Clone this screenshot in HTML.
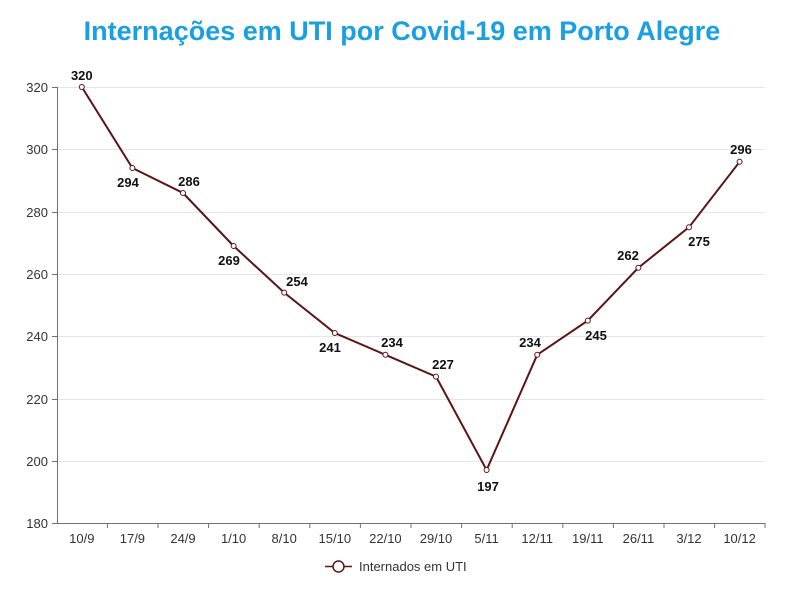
<!DOCTYPE html>
<html><head><meta charset="utf-8"><style>body{margin:0;background:#fff}svg{display:block}</style></head><body>
<svg width="800" height="589" xmlns="http://www.w3.org/2000/svg" font-family="'Liberation Sans',sans-serif">
<text x="402" y="40" text-anchor="middle" font-size="27" font-weight="bold" fill="#1aa0e0">Internações em UTI por Covid-19 em Porto Alegre</text>
<g stroke="#e6e6e6" stroke-width="1">
<line x1="57" x2="765" y1="87.5" y2="87.5"/><line x1="57" x2="765" y1="149.5" y2="149.5"/><line x1="57" x2="765" y1="212.5" y2="212.5"/><line x1="57" x2="765" y1="274.5" y2="274.5"/><line x1="57" x2="765" y1="336.5" y2="336.5"/><line x1="57" x2="765" y1="399.5" y2="399.5"/><line x1="57" x2="765" y1="461.5" y2="461.5"/>
</g>
<g stroke="#6e7079" stroke-width="1">
<line x1="57.5" x2="57.5" y1="87" y2="523"/>
<line x1="57" x2="765" y1="523.5" y2="523.5"/>
<line x1="52" x2="57" y1="87.5" y2="87.5"/><line x1="52" x2="57" y1="149.5" y2="149.5"/><line x1="52" x2="57" y1="212.5" y2="212.5"/><line x1="52" x2="57" y1="274.5" y2="274.5"/><line x1="52" x2="57" y1="336.5" y2="336.5"/><line x1="52" x2="57" y1="399.5" y2="399.5"/><line x1="52" x2="57" y1="461.5" y2="461.5"/><line x1="52" x2="57" y1="523.5" y2="523.5"/>
<line x1="107.4" x2="107.4" y1="523" y2="528"/><line x1="158" x2="158" y1="523" y2="528"/><line x1="208.6" x2="208.6" y1="523" y2="528"/><line x1="259.2" x2="259.2" y1="523" y2="528"/><line x1="309.8" x2="309.8" y1="523" y2="528"/><line x1="360.4" x2="360.4" y1="523" y2="528"/><line x1="411" x2="411" y1="523" y2="528"/><line x1="461.6" x2="461.6" y1="523" y2="528"/><line x1="512.2" x2="512.2" y1="523" y2="528"/><line x1="562.8" x2="562.8" y1="523" y2="528"/><line x1="613.4" x2="613.4" y1="523" y2="528"/><line x1="664" x2="664" y1="523" y2="528"/><line x1="714.6" x2="714.6" y1="523" y2="528"/><line x1="765" x2="765" y1="523" y2="528"/>
</g>
<g font-size="13" fill="#333" text-anchor="end">
<text x="48" y="92">320</text><text x="48" y="154">300</text><text x="48" y="217">280</text><text x="48" y="279">260</text><text x="48" y="341">240</text><text x="48" y="404">220</text><text x="48" y="466">200</text><text x="48" y="528">180</text>
</g>
<g font-size="13" fill="#333" text-anchor="middle">
<text x="81.8" y="543">10/9</text><text x="132.4" y="543">17/9</text><text x="183" y="543">24/9</text><text x="233.6" y="543">1/10</text><text x="284.2" y="543">8/10</text><text x="334.8" y="543">15/10</text><text x="385.4" y="543">22/10</text><text x="436" y="543">29/10</text><text x="486.6" y="543">5/11</text><text x="537.2" y="543">12/11</text><text x="587.8" y="543">19/11</text><text x="638.4" y="543">26/11</text><text x="689" y="543">3/12</text><text x="739.6" y="543">10/12</text>
</g>
<polyline fill="none" stroke="#5c1414" stroke-width="2" points="81.8,87 132.4,168 183,193 233.6,246 284.2,292.6 334.8,333 385.4,354.8 436,376.6 486.6,470 537.2,354.8 587.8,320.6 638.4,267.7 689,227.2 739.6,161.8"/>
<g fill="#fff" stroke="#5c1414" stroke-width="1">
<circle cx="81.8" cy="87" r="2.5"/><circle cx="132.4" cy="168" r="2.5"/><circle cx="183" cy="193" r="2.5"/><circle cx="233.6" cy="246" r="2.5"/><circle cx="284.2" cy="292.6" r="2.5"/><circle cx="334.8" cy="333" r="2.5"/><circle cx="385.4" cy="354.8" r="2.5"/><circle cx="436" cy="376.6" r="2.5"/><circle cx="486.6" cy="470" r="2.5"/><circle cx="537.2" cy="354.8" r="2.5"/><circle cx="587.8" cy="320.6" r="2.5"/><circle cx="638.4" cy="267.7" r="2.5"/><circle cx="689" cy="227.2" r="2.5"/><circle cx="739.6" cy="161.8" r="2.5"/>
</g>
<g font-size="13" font-weight="bold" fill="#111" text-anchor="middle">
<text x="81.8" y="80">320</text><text x="128" y="187">294</text><text x="189" y="186">286</text><text x="229" y="265">269</text><text x="297" y="286">254</text><text x="330" y="352">241</text><text x="392" y="347">234</text><text x="443" y="369">227</text><text x="488" y="491">197</text><text x="530" y="347">234</text><text x="596" y="340">245</text><text x="628" y="260">262</text><text x="699" y="246">275</text><text x="741" y="154">296</text>
</g>
<line x1="325" x2="352" y1="566.5" y2="566.5" stroke="#5c1414" stroke-width="1.5"/>
<circle cx="338.5" cy="566.5" r="5.5" fill="#fff" stroke="#5c1414" stroke-width="1.5"/>
<text x="359" y="571" font-size="13" fill="#333">Internados em UTI</text>
</svg>
</body></html>
